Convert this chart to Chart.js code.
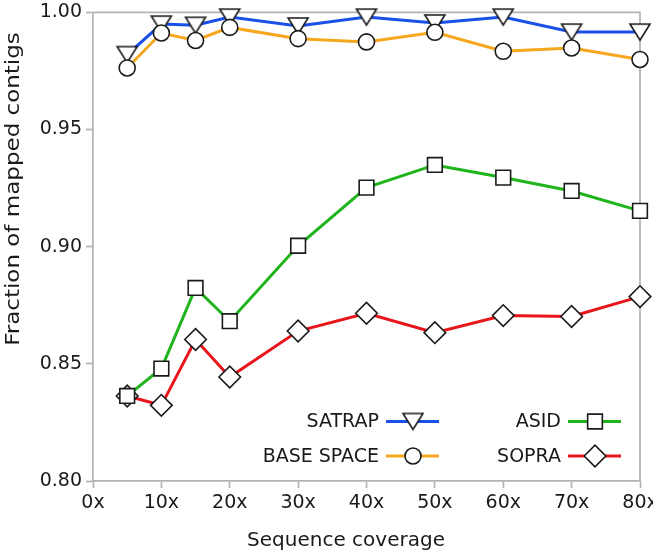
<!DOCTYPE html>
<html><head><meta charset="utf-8">
<script src="https://cdn.jsdelivr.net/npm/chart.js@4.4.0/dist/chart.umd.min.js"></script>
<style>html,body{margin:0;padding:0;background:#fff}#wrap{width:653px;height:551px}</style>
</head><body><div id="wrap"><canvas id="c" width="653" height="551"></canvas></div>
<script>
// ---- data ----
const coverage  = [5, 10, 15, 20, 30, 40, 50, 60, 70, 80];
const satrap    = [0.9820, 0.9950, 0.9945, 0.9980, 0.9942, 0.9980, 0.9955, 0.9980, 0.9916, 0.9916];
const baseSpace = [0.9763, 0.9912, 0.9880, 0.9936, 0.9888, 0.9874, 0.9915, 0.9834, 0.9848, 0.9799];
const asid      = [0.8363, 0.8480, 0.8824, 0.8682, 0.9004, 0.9252, 0.9349, 0.9295, 0.9238, 0.9153];
const sopra     = [0.8363, 0.8323, 0.8604, 0.8444, 0.8640, 0.8716, 0.8633, 0.8706, 0.8702, 0.8787];
const xTicks = [0, 10, 20, 30, 40, 50, 60, 70, 80];
const yTicks = [0.80, 0.85, 0.90, 0.95, 1.00];
const seriesNames = ['SATRAP', 'BASE SPACE', 'ASID', 'SOPRA'];
const xTitle = 'Sequence coverage';
const yTitle = 'Fraction of mapped contigs';

// ---- styles ----
const FONT = "'DejaVu Sans', 'Bitstream Vera Sans', sans-serif";
const AXIS = '#b3b3b3';
const INK = '#1a1a1a';
const COLORS = ['#1a4fe8', '#f7a71e', '#1fb41c', '#e8151b'];

function triangleDown() {
  const c = document.createElement('canvas');
  c.width = 24; c.height = 20;
  const g = c.getContext('2d');
  g.beginPath(); g.moveTo(2, 2); g.lineTo(22, 2); g.lineTo(12, 18); g.closePath();
  g.fillStyle = '#fff'; g.fill();
  g.lineWidth = 1.6; g.strokeStyle = INK; g.stroke();
  return c;
}
const TRI = triangleDown();
const styles = [
  {pointStyle: TRI, pointRadius: 10, order: 2},
  {pointStyle: 'circle', pointRadius: 8, order: 1},
  {pointStyle: 'rect', pointRadius: 10.4, order: 0},
  {pointStyle: 'rectRot', pointRadius: 10.8, order: 3}
];
const values = [satrap, baseSpace, asid, sopra];

const datasets = seriesNames.map((name, k) => ({
  label: name,
  data: coverage.map((x, i) => ({x: x, y: values[k][i]})),
  borderColor: COLORS[k],
  borderWidth: 3,
  backgroundColor: '#fff',
  pointBackgroundColor: '#fff',
  pointBorderColor: INK,
  pointBorderWidth: 1.6,
  pointStyle: styles[k].pointStyle,
  pointRadius: styles[k].pointRadius,
  pointHoverRadius: styles[k].pointRadius,
  order: styles[k].order,
  tension: 0,
  clip: false
}));

function drawMarker(ctx, ds, x, y) {
  const st = ds.pointStyle, r = ds.pointRadius;
  if (typeof st !== 'string') { ctx.drawImage(st, x - st.width / 2, y - st.height / 2); return; }
  ctx.beginPath();
  if (st === 'circle') ctx.arc(x, y, r, 0, Math.PI * 2);
  else if (st === 'rect') { const s = Math.SQRT1_2 * r; ctx.rect(x - s, y - s, 2 * s, 2 * s); }
  else if (st === 'rectRot') { ctx.moveTo(x - r, y); ctx.lineTo(x, y - r); ctx.lineTo(x + r, y); ctx.lineTo(x, y + r); ctx.closePath(); }
  ctx.fillStyle = '#fff'; ctx.fill();
  ctx.lineWidth = ds.pointBorderWidth; ctx.strokeStyle = INK; ctx.stroke();
}

const framePlugin = {
  id: 'frame',
  beforeDatasetsDraw(chart) {
    const {ctx, chartArea: a} = chart;
    ctx.save();
    ctx.strokeStyle = AXIS; ctx.lineWidth = 1.7;
    ctx.beginPath();
    ctx.moveTo(a.left, a.top); ctx.lineTo(a.right, a.top); ctx.lineTo(a.right, a.bottom);
    ctx.stroke();
    ctx.restore();
  },
  afterDraw(chart) {
    const {ctx} = chart;
    ctx.save();
    ctx.fillStyle = INK;
    ctx.font = '20px ' + FONT;
    ctx.textAlign = 'center';
    ctx.textBaseline = 'alphabetic';
    ctx.fillText(xTitle, 346, 546);
    ctx.translate(18.5, 189);
    ctx.rotate(-Math.PI / 2);
    ctx.scale(1.15, 1);
    ctx.fillText(yTitle, 0, 0);
    ctx.restore();
  }
};

const legendPlugin = {
  id: 'cornerLegend',
  afterDatasetsDraw(chart) {
    const ctx = chart.ctx;
    const slots = [[379, 421.5], [379, 456], [561, 421.5], [561, 456]];
    ctx.save();
    ctx.font = '19px ' + FONT;
    ctx.textAlign = 'right';
    ctx.textBaseline = 'middle';
    chart.data.datasets.forEach((ds, k) => {
      const [tx, ty] = slots[k];
      ctx.fillStyle = INK;
      ctx.fillText(ds.label, tx, ty + 1);
      ctx.strokeStyle = ds.borderColor; ctx.lineWidth = 3;
      ctx.beginPath(); ctx.moveTo(tx + 7, ty); ctx.lineTo(tx + 60, ty); ctx.stroke();
      drawMarker(ctx, ds, tx + 34, ty);
    });
    ctx.restore();
  }
};

new Chart(document.getElementById('c'), {
  type: 'line',
  data: {datasets: datasets},
  options: {
    responsive: false,
    animation: false,
    devicePixelRatio: 1,
    layout: {padding: {left: 0, top: 11, right: 13, bottom: 0}},
    plugins: {legend: {display: false}, tooltip: {enabled: false}},
    font: {family: FONT},
    scales: {
      x: {
        type: 'linear', min: 0, max: 80,
        afterBuildTicks: s => { s.ticks = xTicks.map(v => ({value: v})); },
        afterFit: s => { s.height = 70; s.paddingLeft = 0; s.paddingRight = 0; },
        ticks: {callback: v => v + 'x', color: INK, font: {family: FONT, size: 19}, padding: 4, maxRotation: 0, autoSkip: false},
        grid: {display: true, drawOnChartArea: false, drawTicks: true, tickLength: 7, tickColor: AXIS, tickWidth: 1.7},
        border: {display: true, color: AXIS, width: 1.7},
        title: {display: false}
      },
      y: {
        type: 'linear', min: 0.80, max: 1.00,
        afterBuildTicks: s => { s.ticks = yTicks.map(v => ({value: v})); },
        afterFit: s => { s.width = 93; s.paddingTop = 0; s.paddingBottom = 0; },
        ticks: {callback: v => Number(v).toFixed(2), color: INK, font: {family: FONT, size: 19}, padding: 4},
        grid: {display: true, drawOnChartArea: false, drawTicks: true, tickLength: 7, tickColor: AXIS, tickWidth: 1.7},
        border: {display: true, color: AXIS, width: 1.7},
        title: {display: false}
      }
    }
  },
  plugins: [framePlugin, legendPlugin]
});
</script>
</body></html>
